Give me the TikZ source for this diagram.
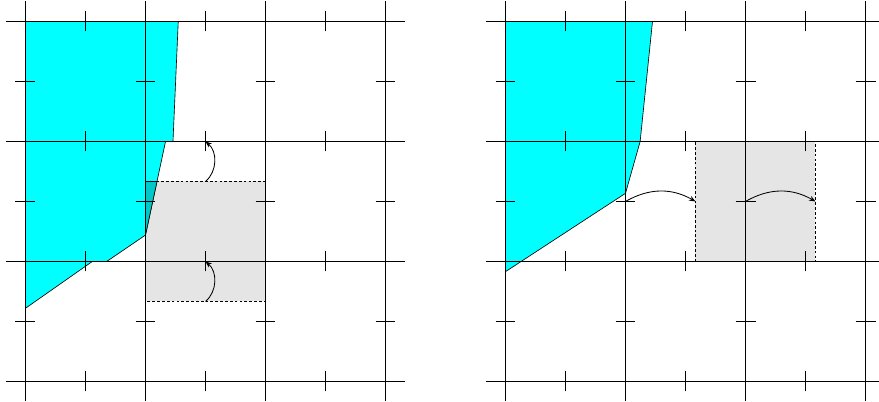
\documentclass[tikz,border=0pt]{standalone}
\usepackage{xcolor}
\usepackage{tikz}
\usetikzlibrary{arrows.meta}

\definecolor{cellgray}{gray}{0.9}
\definecolor{fluid}{RGB}{0,255,255}
\definecolor{overlap}{RGB}{0,200,200}

\begin{document}
\begin{tikzpicture}[
   x=2cm, y=2cm,
   gridline/.style={line width=0.55pt},
   region/.style={fill=fluid, draw=black, line width=0.3pt},
   shifted/.style={fill=cellgray},
   shiftedge/.style={line width=0.4pt, dash pattern=on 1.3pt off 1pt},
   flux/.style={-{Stealth[length=3pt,width=2.4pt]}, line width=0.4pt},
   pics/cellgrid/.style={code={
      \foreach \k in {0,1,2,3} {
         \draw[gridline] (-1/6,\k) -- (3+1/6,\k);
         \draw[gridline] (\k,-1/6) -- (\k,3+1/6);
      }
      \foreach \k in {0,1,2,3}
      \foreach \m in {0.5,1.5,2.5} {
         \draw[gridline] (\m,\k-1/12) -- (\m,\k+1/12);
         \draw[gridline] (\k-1/12,\m) -- (\k+1/12,\m);
      }
   }},
   ]
   \useasboundingbox (-0.2125,-0.171) rectangle (7.1125,3.179);

   % left: cell shifted downwards
   \fill[shifted] (1,2/3) rectangle (2,5/3);
   \draw[region] (0,3) -- (1.273,3) -- (1.229,2) -- (1.167,2) -- (1,1.22)
      -- (0.677,1) -- (0.557,1) -- (0,0.61) -- cycle;
   \draw[fill=overlap, line width=0.3pt] (1,5/3) -- (1.096,5/3) -- (1,1.22) -- cycle;
   \draw[shiftedge] (1,2/3) rectangle (2,5/3);
   \pic {cellgrid};

   \coordinate (lbot) at (1.5,2/3);
   \coordinate (lbotgrid) at (1.5,1);
   \coordinate (ltop) at (1.5,5/3);
   \coordinate (ltopgrid) at (1.5,2);
   \draw[flux] (lbot) to[bend right=50] (lbotgrid);
   \draw[flux] (ltop) to[bend right=50] (ltopgrid);

   % right: cell shifted sideways
   \begin{scope}[shift={(4,0)}]
      \fill[shifted] (1.583,1) rectangle (2.583,2);
      \draw[region] (0,3) -- (1.225,3) -- (1.122,2) -- (1,1.568) -- (0,0.915) -- cycle;
      \draw[shiftedge] (1.583,1) rectangle (2.583,2);
      \pic {cellgrid};

      \coordinate (rleftgrid) at (1,1.5);
      \coordinate (rleft) at (1.583,1.5);
      \coordinate (rrightgrid) at (2,1.5);
      \coordinate (rright) at (2.583,1.5);
      \draw[flux] (rleftgrid) to[bend left=30] (rleft);
      \draw[flux] (rrightgrid) to[bend left=30] (rright);
   \end{scope}
\end{tikzpicture}
\end{document}
